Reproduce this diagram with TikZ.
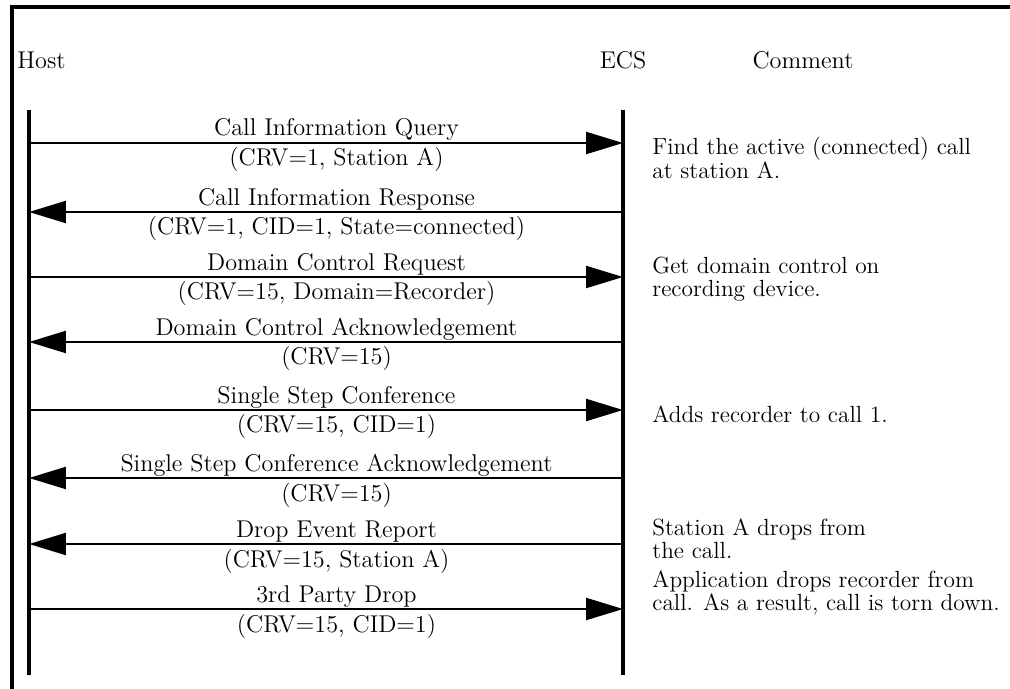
\documentclass[tikz,border=0pt]{standalone}
\usetikzlibrary{arrows.meta}

\begin{document}
\begin{tikzpicture}[
		x=0.02cm, y=-0.02cm,
		every node/.style={font=\fontsize{13.8}{16}\selectfont, inner sep=0pt},
		frame/.style={line width=0.07cm},
		lifeline/.style={line width=0.065cm},
		msg/.style={line width=0.045cm, -{Triangle[length=0.74cm, width=0.44cm]}},
		msgname/.style={anchor=base, midway, xshift=0.21cm, yshift=0.14cm},
		msgdata/.style={anchor=base, midway, xshift=0.21cm, yshift=-0.46cm},
		note/.style={anchor=base west, align=left, font=\fontsize{13.3}{12.8}\selectfont},
		]
		\useasboundingbox (0,0) rectangle (1010,689);
		
		% Frame (top and left edges only)
		\draw[frame] (1010,7) -- (12,7) -- (12,689);
		
		% Column headings
		\node[anchor=base west] (host) at (17,69) {Host};
		\node[anchor=base] (ecs) at (623,69) {ECS};
		\node[anchor=base] (comment) at (803,69) {Comment};
		
		% Lifelines
		\coordinate (host-top) at (29,110);
		\coordinate (host-end) at (29,675);
		\coordinate (ecs-top) at (623,110);
		\coordinate (ecs-end) at (623,675);
		\draw[lifeline] (host-top) -- (host-end);
		\draw[lifeline] (ecs-top) -- (ecs-end);
		
		% Message rows on both lifelines
		\foreach \i/\y in {1/143, 2/212, 3/277, 4/342, 5/410, 6/478, 7/544, 8/609} {
			\coordinate (h\i) at (29,\y);
			\coordinate (e\i) at (623,\y);
		}
		
		% Messages
		\draw[msg] (h1) -- node[msgname]{Call Information Query} node[msgdata]{(CRV=1, Station A)} (e1);
		\draw[msg] (e2) -- node[msgname]{Call Information Response} node[msgdata]{(CRV=1, CID=1, State=connected)} (h2);
		\draw[msg] (h3) -- node[msgname]{Domain Control Request} node[msgdata]{(CRV=15, Domain=Recorder)} (e3);
		\draw[msg] (e4) -- node[msgname]{Domain Control Acknowledgement} node[msgdata]{(CRV=15)} (h4);
		\draw[msg] (h5) -- node[msgname]{Single Step Conference} node[msgdata]{(CRV=15, CID=1)} (e5);
		\draw[msg] (e6) -- node[msgname]{Single Step Conference Acknowledgement} node[msgdata]{(CRV=15)} (h6);
		\draw[msg] (e7) -- node[msgname]{Drop Event Report} node[msgdata]{(CRV=15, Station A)} (h7);
		\draw[msg] (h8) -- node[msgname]{3rd Party Drop} node[msgdata]{(CRV=15, CID=1)} (e8);
		
		% Comments (anchored at the baseline of the last line)
		\node[note] (note1) at (652,179) {Find the active (connected) call\\at station A.};
		\node[note] (note2) at (652,296) {Get domain control on\\recording device.};
		\node[note] (note3) at (652,422) {Adds recorder to call 1.};
		\node[note] (note4) at (652,558) {Station A drops from\\the call.};
		\node[note] (note5) at (652,610) {Application drops recorder from\\call. As a result, call is torn down.};
		
	\end{tikzpicture}
\end{document}
